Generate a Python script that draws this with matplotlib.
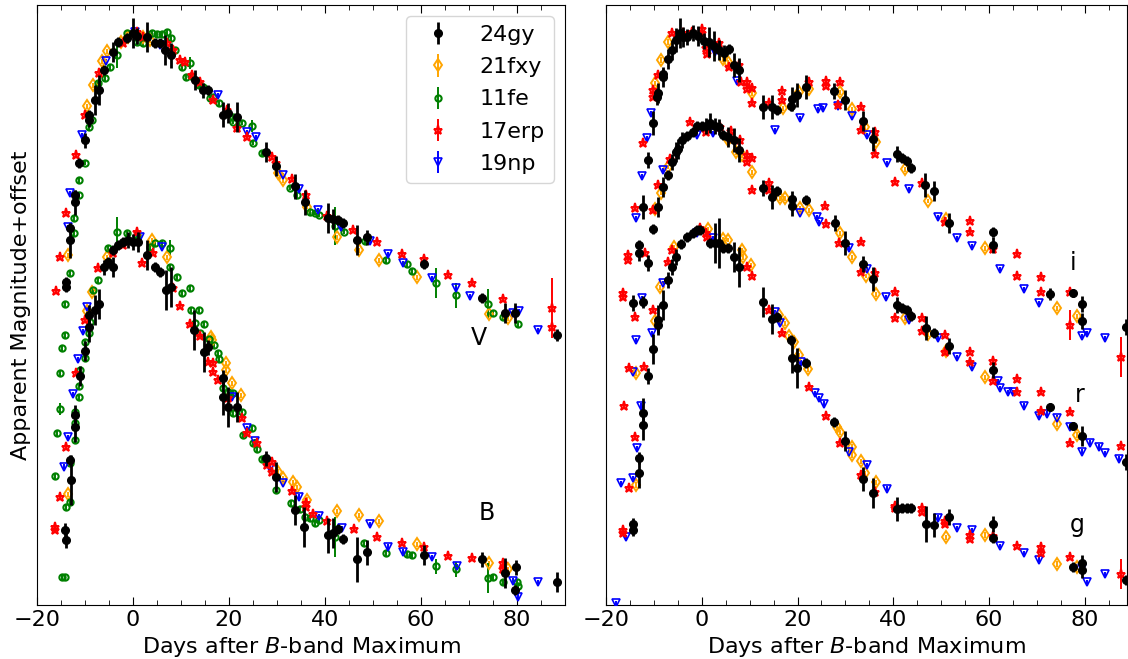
import matplotlib
matplotlib.use("Agg")
import matplotlib.pyplot as plt
from matplotlib.ticker import MultipleLocator

# light-curve points: (days after B max, magnitude + offset[, error])
DEFAULT_ERR = 0.05

# ---------------- V band ----------------
V_24gy = [(-14.0, 5.64, .10), (-14.0, 5.74, .10), (-13.1, 4.56, .10), (-13.1, 4.80, .35),
          (-12.1, 3.90, .10), (-12.1, 4.04, .25), (-11.3, 3.26, .10), (-10.0, 2.80, .15),
          (-9.2, 2.30, .10), (-9.2, 2.40, .15), (-7.9, 2.00, .30), (-7.1, 1.80, .30),
          (-6.0, 1.40, .10), (-4.2, 1.04, .20), (-3.1, 0.84, .10), (-1.3, 0.76, .10),
          (0.0, 0.66, .30), (0.8, 0.72, .15), (2.9, 0.74, .30), (4.6, 0.86, .10),
          (5.6, 0.86, .10), (6.7, 1.00, .30), (7.9, 1.10, .25), (12.9, 1.60, .20),
          (14.6, 1.80, .15), (15.6, 1.80, .10), (18.8, 2.30, .25), (19.8, 2.26, .20),
          (21.7, 2.34, .30), (27.7, 3.04, .20), (29.8, 3.32, .20), (33.8, 3.72, .25),
          (35.8, 4.04, .25), (40.6, 4.36, .30), (41.7, 4.38, .20), (42.7, 4.40, .10),
          (43.8, 4.46, .10), (46.7, 4.80, .30), (48.8, 4.74, .15), (60.6, 5.28, .10),
          (72.7, 5.96, .10), (77.5, 6.26, .20), (79.6, 6.26, .20), (88.3, 6.70, .12)]
V_21fxy = [(-13.5, 5.10), (-9.6, 2.12), (-8.3, 1.70), (-6.5, 1.22), (-5.4, 1.02), (-2.5, 0.84),
           (-1.0, 0.74), (2.1, 0.74), (3.5, 0.80), (30.2, 3.46), (31.3, 3.60), (36.3, 4.14),
           (42.5, 4.74), (47.1, 5.00), (51.3, 5.20), (59.2, 5.54), (74.2, 6.28), (78.1, 6.36)]
V_11fe = [(-14.2, 6.08), (-13.1, 5.46), (-12.3, 4.66), (-12.3, 4.36), (-11.3, 3.90), (-11.3, 3.60),
          (-10.0, 3.26), (-9.2, 2.54), (-8.5, 2.40), (-7.3, 1.66), (-5.8, 1.56), (-4.8, 1.34),
          (-3.3, 1.10, .25), (-1.3, 0.66), (0.8, 0.84), (2.1, 0.86), (4.0, 0.66), (5.0, 0.68),
          (6.0, 0.68), (7.1, 0.64), (7.9, 0.76), (8.8, 1.00), (10.2, 1.34), (11.0, 1.54),
          (11.9, 1.26, .12), (12.1, 1.52), (13.8, 1.70), (14.6, 1.74), (16.0, 1.96), (16.7, 1.94),
          (17.9, 2.06), (20.8, 2.34), (20.8, 2.44), (22.7, 2.46), (24.8, 2.52, .12), (25.0, 2.86),
          (26.9, 3.06), (32.7, 3.76), (34.2, 3.90), (36.9, 4.24), (37.9, 4.26), (38.8, 4.30),
          (42.1, 4.52, .38), (44.0, 4.64), (48.3, 4.82), (52.7, 5.20), (57.1, 5.28), (58.1, 5.42),
          (63.1, 5.66, .30), (67.3, 5.90, .25), (74.0, 6.08, .30), (75.0, 6.26), (77.1, 6.34),
          (80.2, 6.48)]
V_17erp = [(-16.0, 5.82), (-15.2, 5.14), (-14.0, 4.26), (-11.9, 3.10), (-10.0, 2.30), (-7.1, 1.46),
           (-2.1, 0.86), (0.8, 0.64), (2.1, 0.74), (7.1, 0.86), (8.3, 1.00), (9.8, 1.20),
           (10.8, 1.24), (12.3, 1.50), (14.0, 1.64), (16.7, 2.00), (19.6, 2.20), (21.7, 2.56),
           (23.8, 2.74), (29.0, 3.14), (29.8, 3.26), (33.1, 3.58), (36.0, 3.90), (40.4, 4.32),
           (45.8, 4.60), (50.8, 4.84), (56.0, 5.08), (60.6, 5.18), (65.6, 5.50), (70.6, 5.66),
           (77.1, 5.98), (87.3, 6.16, .60), (87.3, 6.54)]
V_19np = [(-13.5, 4.54), (-13.1, 3.86), (-10.6, 2.70), (-5.6, 1.22), (0.4, 0.64), (5.6, 0.90),
          (17.7, 1.90), (23.8, 2.64), (25.6, 2.74), (31.3, 3.50), (34.6, 3.78), (38.5, 4.20),
          (43.3, 4.54), (49.4, 4.82), (53.1, 5.08), (56.3, 5.26), (62.3, 5.56), (67.3, 5.76),
          (70.2, 5.92), (79.2, 6.26), (80.4, 6.22), (84.4, 6.60)]

# ---------------- B band ----------------
B_24gy = [(-14.2, 10.60, .15), (-14.0, 10.80, .15), (-13.1, 9.20, .10), (-12.9, 9.60, .50),
          (-12.1, 8.30, .20), (-12.1, 8.54, .30), (-11.0, 7.52, .20), (-10.0, 7.02, .20),
          (-9.2, 6.54, .30), (-9.2, 6.30, .20), (-7.9, 6.20, .30), (-7.1, 6.08, .30),
          (-6.0, 5.34, .15), (-5.2, 5.24, .10), (-4.2, 5.34, .20), (-4.2, 5.00, .10),
          (-3.1, 4.90, .10), (-2.1, 4.84, .10), (-1.0, 4.80, .15), (0.0, 4.84, .15),
          (1.0, 4.84, .20), (2.9, 5.10, .30), (4.6, 5.34, .10), (5.6, 5.44, .10),
          (6.9, 5.80, .40), (7.9, 5.74, .40), (12.7, 6.60, .40), (14.8, 7.04, .40),
          (15.6, 6.94, .15), (18.8, 7.56, .15), (18.8, 7.94, .35), (19.8, 8.14, .40),
          (21.7, 8.14, .30), (27.7, 9.16, .15), (29.8, 9.54, .30), (33.8, 10.20, .30),
          (35.6, 10.54, .40), (40.6, 10.70, .35), (41.7, 10.66, .30), (42.7, 10.58, .10),
          (43.8, 10.78, .10), (46.7, 11.18, .45), (48.8, 11.04, .25), (60.6, 11.10, .20),
          (72.7, 11.18, .15), (77.5, 11.46, .30), (79.6, 11.80, .10), (79.8, 11.34, .15),
          (88.3, 11.64, .20)]
B_21fxy = [(-13.5, 9.88), (-9.6, 6.22), (-8.5, 5.84), (-5.4, 5.14), (4.0, 4.80), (7.1, 5.14),
           (16.3, 6.74), (16.5, 6.80), (19.4, 7.26), (19.4, 7.40), (20.6, 7.66), (22.5, 7.90),
           (30.2, 9.44), (31.3, 9.56), (33.3, 9.64), (34.2, 9.74), (36.3, 10.00), (42.5, 10.22),
           (47.1, 10.30), (51.3, 10.42), (59.2, 10.88), (74.2, 11.26), (78.1, 11.38)]
B_11fe = [(-14.8, 11.54), (-14.2, 11.54), (-16.3, 9.52), (-14.0, 10.14), (-13.1, 10.04),
          (-15.8, 8.66), (-15.2, 8.18, .12), (-15.2, 7.46), (-14.8, 6.96), (-14.2, 6.70),
          (-13.1, 9.26), (-12.1, 8.80), (-12.1, 8.46), (-12.1, 8.24), (-11.3, 7.94), (-11.3, 7.72),
          (-11.0, 7.40), (-10.0, 7.16), (-10.0, 6.84), (-9.2, 6.66), (-9.0, 6.44), (-8.3, 5.80),
          (-7.3, 5.60), (-5.2, 4.96), (-3.3, 4.64, .30), (-1.3, 4.66), (0.8, 4.70), (3.5, 4.94),
          (4.6, 4.86), (6.0, 4.86), (7.7, 4.96, .15), (7.7, 5.34), (9.2, 5.54), (10.2, 5.86),
          (11.9, 5.76), (12.1, 6.20), (13.8, 6.20), (12.9, 6.46), (14.8, 6.48), (14.0, 6.66),
          (15.8, 6.78), (16.9, 6.90), (17.7, 7.06), (17.9, 7.18), (18.8, 7.76), (19.8, 7.84),
          (20.8, 7.86), (20.8, 8.26), (22.7, 8.24), (22.9, 8.70), (24.8, 8.56), (25.0, 8.86),
          (25.8, 8.98), (26.9, 9.18), (29.8, 9.80), (32.9, 10.06), (34.8, 10.18), (35.8, 10.34),
          (36.9, 10.36), (37.9, 10.46), (38.8, 10.40), (42.1, 10.74, .40), (48.1, 10.86),
          (52.7, 11.06), (57.1, 11.08), (58.1, 11.10), (63.1, 11.32, .15), (67.3, 11.38, .15),
          (74.0, 11.56, .30), (75.0, 11.54), (77.1, 11.64), (80.0, 11.64), (80.2, 11.72)]
B_17erp = [(-16.3, 10.54), (-16.3, 10.60), (-15.2, 9.94), (-14.0, 8.94), (-11.9, 7.46),
           (-10.0, 6.40), (-7.3, 5.36), (-4.2, 5.06), (-2.1, 4.90), (0.8, 4.64), (1.9, 5.26),
           (4.2, 5.06), (8.3, 5.76), (9.8, 6.12), (11.9, 6.48), (14.0, 6.72), (15.6, 7.24),
           (16.7, 7.26), (16.7, 7.44), (17.7, 7.60), (19.8, 7.96), (22.7, 8.36), (23.8, 8.66),
           (25.8, 8.86), (27.9, 9.30), (29.0, 9.24), (29.0, 9.44), (33.1, 9.82), (36.0, 10.06),
           (36.0, 10.14), (37.5, 10.28), (40.4, 10.42), (46.0, 10.58), (50.8, 10.74),
           (56.0, 10.86), (60.6, 10.94), (65.6, 11.12), (70.6, 11.16), (77.1, 11.26), (77.1, 11.38)]
B_19np = [(-14.4, 9.34), (-13.5, 8.74), (-12.5, 7.88), (-11.5, 7.18), (-10.4, 6.62), (-9.6, 6.14),
          (1.5, 4.74), (6.0, 4.94), (20.6, 7.94), (23.8, 8.56), (25.4, 8.82), (28.5, 9.36),
          (31.3, 9.66), (34.6, 9.94), (38.8, 10.32), (43.5, 10.56), (49.4, 10.48), (53.1, 10.94),
          (56.3, 11.04), (62.3, 11.14), (67.5, 11.32), (79.2, 11.62), (80.2, 11.94), (84.4, 11.64)]

# ---------------- i band ----------------
i_24gy = [(-13.2, 4.90, .10), (-13.2, 5.06, .16), (-12.3, 4.14, .24), (-11.3, 3.20, .16),
          (-10.2, 2.46, .24), (-9.4, 1.94, .16), (-9.2, 1.86, .20), (-8.1, 1.54, .20),
          (-8.1, 1.48, .10), (-7.1, 1.18, .20), (-6.3, 1.00, .20), (-5.4, 0.80, .24),
          (-4.6, 0.66, .30), (-4.0, 0.74, .20), (-3.1, 0.74, .16), (-1.9, 0.66, .16),
          (-0.8, 0.72, .20), (0.4, 0.82, .16), (1.5, 0.84, .30), (2.5, 0.92, .30),
          (3.5, 1.00, .20), (4.6, 1.06, .16), (5.6, 0.98, .10), (6.7, 1.30, .24),
          (7.7, 1.40, .24), (12.7, 2.14, .24), (14.6, 2.14, .24), (15.7, 2.20, .10),
          (18.6, 2.12, .10), (18.8, 1.98, .24), (19.8, 1.90, .24), (21.7, 1.74, .24),
          (27.6, 1.82, .16), (29.9, 2.00, .20), (33.6, 2.42, .20), (35.7, 2.78, .24),
          (40.7, 3.08, .16), (41.8, 3.16, .10), (42.8, 3.22, .10), (43.6, 3.36, .10),
          (46.6, 3.70, .24), (48.6, 3.82, .20), (51.6, 4.46, .20), (60.8, 4.64, .10),
          (60.8, 4.90, .16), (72.7, 5.88, .12), (77.5, 5.86, .08), (79.5, 6.08, .16),
          (79.5, 6.42, .16), (88.5, 6.54, .16)]
i_21fxy = [(-9.8, 1.66), (-8.6, 1.20), (-7.1, 0.84), (4.4, 1.18), (5.4, 1.24), (10.4, 1.86),
           (16.9, 2.16), (20.3, 1.84), (22.3, 1.78), (28.8, 1.84), (31.3, 2.18), (34.0, 2.54),
           (36.3, 2.84), (42.4, 3.38), (47.2, 4.02), (51.1, 4.38), (59.1, 4.96), (74.1, 6.16),
           (78.3, 6.32)]
i_17erp = [(-16.5, 5.86), (-16.5, 5.94), (-15.5, 5.10), (-15.5, 5.20), (-14.0, 4.16), (-12.3, 2.86),
           (-10.2, 1.80), (-10.2, 1.94), (-9.2, 1.50), (-6.3, 0.66), (-4.0, 0.66), (-2.1, 0.64),
           (0.0, 0.58), (0.0, 0.66), (0.8, 0.96), (1.0, 1.08), (3.5, 0.86), (5.6, 1.34),
           (7.7, 1.30), (8.1, 1.64), (9.4, 1.64), (9.4, 1.78), (10.4, 1.76), (10.4, 2.06),
           (14.0, 2.06), (16.7, 1.82), (16.7, 2.00), (22.3, 1.64), (25.9, 1.62), (25.9, 1.72),
           (28.8, 1.64), (28.4, 2.10), (33.2, 2.14), (33.2, 2.60), (36.1, 2.64), (36.1, 3.08),
           (40.3, 3.64), (45.9, 3.66), (50.7, 4.44), (56.0, 4.42), (56.0, 4.64), (60.8, 4.98),
           (65.8, 5.08), (65.8, 5.52), (70.8, 5.54), (70.8, 5.84), (76.8, 5.84), (77.0, 6.50, .30),
           (87.5, 7.14, .40)]
i_19np = [(-13.8, 4.36), (-12.5, 3.52), (-11.5, 2.76), (-10.6, 2.26), (2.7, 1.04), (7.3, 1.62),
          (15.2, 2.60), (20.5, 2.36), (24.2, 2.18), (25.3, 2.16), (28.4, 2.12), (31.3, 2.32),
          (34.4, 2.70), (38.6, 3.26), (43.2, 3.78), (49.3, 4.34), (53.2, 4.76), (56.4, 4.92),
          (62.2, 5.38), (67.2, 5.78), (70.4, 6.06), (79.3, 6.72), (80.4, 6.66), (84.3, 6.76)]

# ---------------- r band ----------------
r_24gy = [(-14.4, 6.06, .16), (-12.3, 6.04, .12), (-11.3, 5.26, .16), (-10.2, 4.58, .10),
          (-9.2, 4.14, .20), (-8.1, 3.74, .20), (-7.1, 3.50, .10), (-6.3, 3.24, .16),
          (-5.4, 3.04, .20), (-5.0, 2.98, .20), (-4.2, 2.80, .16), (-3.1, 2.72, .10),
          (-1.9, 2.64, .10), (-1.0, 2.52, .10), (0.0, 2.52, .10), (0.8, 2.52, .16),
          (1.7, 2.46, .20), (2.7, 2.52, .16), (3.5, 2.54, .16), (4.4, 2.70, .10),
          (5.4, 2.74, .20), (6.7, 2.80, .24), (7.7, 3.00, .24), (12.7, 3.76, .16),
          (14.6, 3.94, .24), (15.7, 3.82, .10), (18.8, 3.98, .16), (18.8, 4.12, .20),
          (21.7, 4.00, .10), (27.8, 4.46, .16), (29.9, 4.86, .24), (33.6, 5.28, .16),
          (35.7, 5.58, .24), (40.7, 6.10, .16), (41.8, 6.16, .10), (42.8, 6.20, .10),
          (43.6, 6.32, .10), (46.8, 6.56, .24), (48.6, 6.66, .10), (51.6, 6.92, .16),
          (60.8, 7.40, .16), (72.7, 8.14, .08), (77.5, 8.52, .08), (79.5, 8.72, .20),
          (88.5, 9.24, .16)]
r_21fxy = [(-9.8, 4.18), (-8.6, 3.86), (-7.1, 3.34), (5.4, 2.80), (7.1, 3.04), (8.4, 3.10),
           (10.4, 3.44), (16.3, 3.96), (17.3, 3.96), (20.5, 4.16), (22.3, 4.20), (28.8, 4.66),
           (31.3, 5.14), (34.2, 5.52), (36.3, 5.88), (42.4, 6.36), (47.2, 6.68), (51.1, 7.02),
           (59.1, 7.54), (74.1, 8.48), (78.3, 8.70)]
r_17erp = [(-16.3, 8.12), (-14.0, 6.34), (-11.9, 5.06), (-10.2, 4.20), (-9.2, 3.70), (-6.7, 3.18),
           (-2.5, 2.44), (0.8, 2.64), (3.8, 2.54), (6.1, 2.62), (6.1, 2.78), (7.9, 2.80),
           (9.4, 3.10), (9.4, 3.24), (10.4, 3.16), (10.4, 3.80), (14.0, 3.66), (14.0, 3.80),
           (25.7, 4.12), (25.9, 4.48), (28.6, 4.86), (33.2, 4.84), (33.2, 5.44), (36.1, 5.46),
           (40.3, 5.84), (40.3, 6.36), (45.9, 6.36), (45.9, 6.62), (50.7, 6.70), (50.7, 7.04),
           (56.0, 7.04), (56.0, 7.24), (60.8, 7.22), (60.8, 7.62), (65.8, 7.58), (65.8, 7.84),
           (70.8, 7.84), (70.8, 8.22), (76.8, 8.24), (76.8, 8.86), (87.5, 8.92)]
r_19np = [(-12.5, 5.96), (-8.1, 3.40), (-1.0, 2.70), (2.3, 2.66), (20.5, 4.26), (24.0, 4.34),
          (24.4, 4.44), (30.7, 4.96), (34.4, 5.38), (38.4, 5.94), (43.2, 6.40), (49.3, 6.76),
          (53.2, 7.14), (56.4, 7.34), (61.8, 7.62), (62.2, 7.76), (63.9, 7.84), (64.9, 7.84),
          (67.2, 8.12), (70.4, 8.32), (72.0, 8.28), (74.1, 8.36), (77.0, 8.54), (79.3, 9.04),
          (81.0, 8.86), (82.9, 8.94), (84.3, 9.06), (87.1, 9.18)]

# ---------------- g band ----------------
g_24gy = [(-14.4, 10.60, .12), (-14.4, 10.48, .12), (-13.2, 9.16, .12), (-13.2, 9.46, .30),
          (-12.3, 8.26, .30), (-12.3, 8.50, .30), (-11.3, 7.52, .16), (-10.2, 6.98, .30),
          (-9.2, 6.40, .30), (-9.2, 6.50, .16), (-8.1, 6.10, .30), (-7.1, 5.60, .16),
          (-6.3, 5.34, .16), (-5.4, 5.14, .16), (-4.4, 4.88, .10), (-3.1, 4.74, .10),
          (-1.9, 4.66, .10), (-1.0, 4.60, .10), (-0.4, 4.60, .10), (1.7, 4.86, .10),
          (2.7, 4.86, .40), (3.5, 4.86, .50), (4.4, 4.96, .10), (5.4, 4.96, .10),
          (6.7, 5.14, .30), (7.7, 5.34, .40), (12.7, 6.04, .30), (14.6, 6.38, .30),
          (15.7, 6.34, .10), (18.6, 6.80, .10), (18.8, 7.16, .30), (19.8, 7.36, .40),
          (21.7, 7.26, .10), (27.6, 8.44, .10), (29.9, 8.82, .20), (33.6, 9.58, .24),
          (35.7, 9.86, .30), (40.7, 10.18, .24), (41.8, 10.16, .10), (42.8, 10.16, .10),
          (43.6, 10.16, .10), (46.8, 10.48, .36), (48.6, 10.50, .24), (51.6, 10.34, .16),
          (60.8, 10.48, .16), (60.8, 10.76, .10), (77.5, 11.34, .10), (79.5, 11.26, .16),
          (79.5, 11.40, .16), (88.5, 11.60, .10)]
g_21fxy = [(-13.8, 7.46), (-13.8, 9.70), (-9.8, 6.42), (-8.8, 5.74), (-5.8, 4.94), (1.3, 4.58),
           (4.4, 4.78), (5.4, 4.80), (8.4, 5.00), (8.6, 5.14), (10.2, 5.30), (16.1, 6.30),
           (17.3, 6.46), (18.2, 6.72), (19.2, 6.84), (20.3, 7.10), (22.1, 7.38), (28.2, 8.54),
           (28.8, 8.64), (31.3, 8.94), (31.3, 9.10), (33.2, 9.22), (34.0, 9.46), (36.3, 9.64),
           (51.1, 10.74), (59.1, 10.70), (74.1, 11.28), (78.3, 11.34)]
g_17erp = [(-16.5, 10.60), (-16.5, 10.66), (-15.2, 7.36), (-15.2, 9.76), (-14.0, 8.74),
           (-12.1, 7.34), (-10.2, 6.20), (-7.1, 5.24), (-6.3, 5.00), (-0.4, 4.56), (0.8, 4.66),
           (1.0, 4.74), (9.4, 5.34), (10.4, 5.52), (14.0, 6.20), (16.7, 6.66), (22.3, 7.74),
           (25.9, 8.32), (28.8, 8.86), (33.2, 9.50), (36.1, 9.84), (40.3, 10.12), (40.3, 10.16),
           (45.9, 10.16), (45.9, 10.24), (50.7, 10.42), (50.7, 10.48), (56.0, 10.70),
           (56.0, 10.78), (60.8, 10.72), (65.8, 10.92), (70.8, 10.94), (70.8, 11.06),
           (76.8, 11.14), (87.5, 11.48, .30)]
g_19np = [(-18.0, 12.06), (-16.9, 9.66), (-15.9, 10.74), (-14.4, 9.56), (-14.4, 7.44), (-13.8, 6.80),
          (-13.6, 8.96), (-12.7, 8.12), (-10.4, 6.66), (-8.1, 5.66), (-1.0, 4.66), (2.3, 4.76),
          (15.2, 6.24), (16.3, 6.46), (20.7, 7.24), (23.6, 7.86), (24.4, 7.96), (25.5, 8.08),
          (30.7, 9.04), (34.4, 9.30), (38.6, 9.78), (49.3, 10.36), (53.2, 10.56), (56.4, 10.60),
          (62.2, 10.92), (67.2, 11.06), (70.4, 11.20), (79.3, 11.36), (80.4, 11.64), (84.3, 11.48)]

SN_NAMES = ['24gy', '21fxy', '11fe', '17erp', '19np']
LEFT_BANDS = {'24gy': [V_24gy, B_24gy], '21fxy': [V_21fxy, B_21fxy], '11fe': [V_11fe, B_11fe],
              '17erp': [V_17erp, B_17erp], '19np': [V_19np, B_19np]}
RIGHT_BANDS = {'24gy': [i_24gy, r_24gy, g_24gy], '21fxy': [i_21fxy, r_21fxy, g_21fxy], '11fe': [],
               '17erp': [i_17erp, r_17erp, g_17erp], '19np': [i_19np, r_19np, g_19np]}
LEFT_LABELS = [('V', 72.0, 6.76), ('B', 73.8, 10.26)]
RIGHT_LABELS = [('i', 77.5, 5.26), ('r', 78.9, 7.90), ('g', 78.5, 10.50)]

STYLES = {
    '24gy': dict(fmt='o', color='black', mfc='black', ms=5.5, elinewidth=2.0, zorder=5),
    '21fxy': dict(fmt='d', color='orange', mfc='none', ms=6, mew=1.4, elinewidth=1.4, zorder=3),
    '11fe': dict(fmt='o', color='green', mfc='none', ms=4.5, mew=1.5, elinewidth=1.4, zorder=3),
    '17erp': dict(fmt='*', color='red', mfc='none', ms=6.5, mew=1.4, elinewidth=1.4, zorder=4),
    '19np': dict(fmt='v', color='blue', mfc='none', ms=5.5, mew=1.2, elinewidth=1.4, zorder=3),
}

plt.rcParams['font.size'] = 16

fig = plt.figure(figsize=(11.28, 6.59), dpi=100)
ax1 = fig.add_axes([37 / 1128, 54 / 659, 528 / 1128, 600 / 659])
ax2 = fig.add_axes([606 / 1128, 54 / 659, 521 / 1128, 600 / 659])


def draw_panel(ax, bands, labels):
    handles = []
    for name in SN_NAMES:
        pts = [p for band in bands[name] for p in band]
        days = [p[0] for p in pts]
        mags = [p[1] for p in pts]
        errs = [p[2] if len(p) > 2 else DEFAULT_ERR for p in pts]
        h = ax.errorbar(days, mags, yerr=errs, capsize=0, label=name, **STYLES[name])
        handles.append(h)
    for txt, x, y in labels:
        ax.text(x, y, txt, fontsize=17, ha='center', va='center')
    ax.set_ylim(12.1, 0.1)
    ax.set_yticks([])
    ax.xaxis.set_major_locator(MultipleLocator(20))
    ax.xaxis.set_minor_locator(MultipleLocator(5))
    ax.tick_params(axis='x', which='both', direction='in', top=True, labelsize=16)
    ax.tick_params(axis='x', which='major', length=6)
    ax.tick_params(axis='x', which='minor', length=3.5)
    ax.set_xlabel('Days after $B$-band Maximum', fontsize=16, labelpad=4)
    return handles


handles = draw_panel(ax1, LEFT_BANDS, LEFT_LABELS)
draw_panel(ax2, RIGHT_BANDS, RIGHT_LABELS)
ax1.set_xlim(-20, 90)
ax2.set_xlim(-20, 88.8)
ax1.set_ylabel('Apparent Magnitude+offset', fontsize=16, labelpad=4)
ax1.legend(handles=handles, loc='upper right', fontsize=16, labelspacing=0.55,
           handletextpad=0.9)

fig.savefig('out.png', dpi=100)
